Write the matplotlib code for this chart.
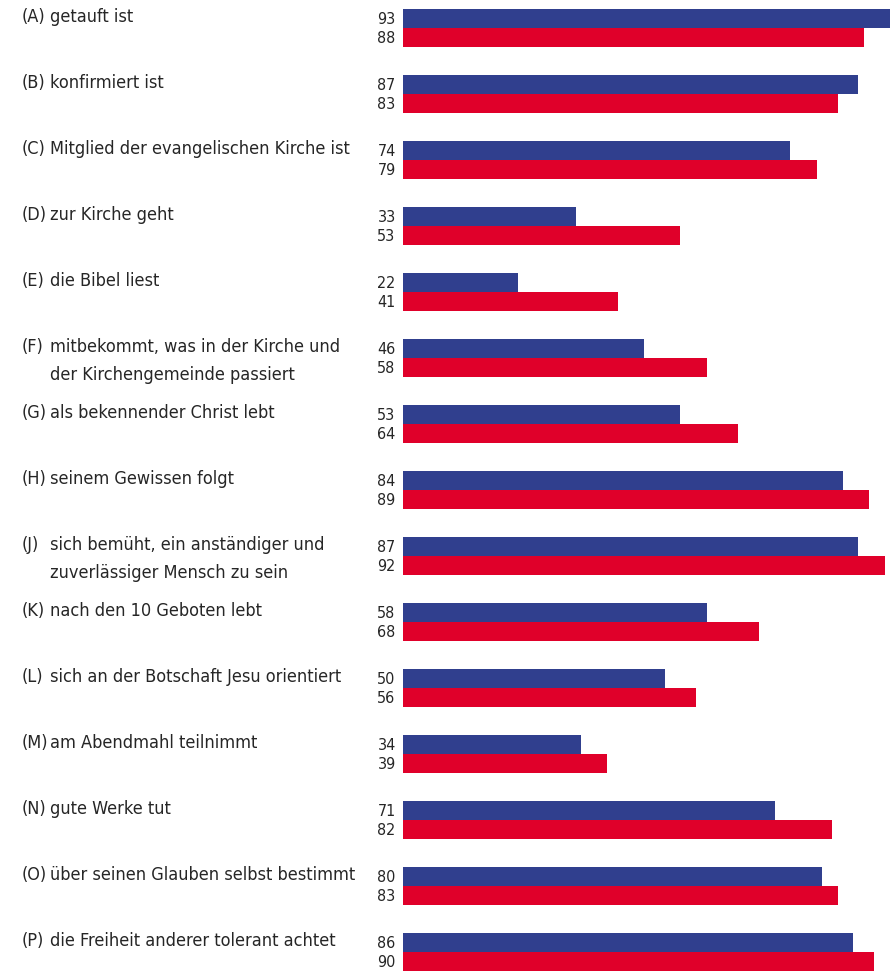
import matplotlib
matplotlib.use("Agg")
import matplotlib.pyplot as plt
import matplotlib.transforms as mtransforms
from matplotlib import font_manager
import numpy as np

# Data
Keys = ["A", "B", "C", "D", "E", "F", "G", "H", "J", "K", "L", "M", "N", "O", "P"]
Labels = [
    ["getauft ist"],
    ["konfirmiert ist"],
    ["Mitglied der evangelischen Kirche ist"],
    ["zur Kirche geht"],
    ["die Bibel liest"],
    ["mitbekommt, was in der Kirche und", "der Kirchengemeinde passiert"],
    ["als bekennender Christ lebt"],
    ["seinem Gewissen folgt"],
    ["sich bemüht, ein anständiger und", "zuverlässiger Mensch zu sein"],
    ["nach den 10 Geboten lebt"],
    ["sich an der Botschaft Jesu orientiert"],
    ["am Abendmahl teilnimmt"],
    ["gute Werke tut"],
    ["über seinen Glauben selbst bestimmt"],
    ["die Freiheit anderer tolerant achtet"],
]
Blue = [93, 87, 74, 33, 22, 46, 53, 84, 87, 58, 50, 34, 71, 80, 86]
Red = [88, 83, 79, 53, 41, 58, 64, 89, 92, 68, 56, 39, 82, 83, 90]

BLUE = "#303f8e"
RED = "#e0002a"
TEXT = "#262626"

# Look for a condensed face, else fall back on DejaVu Sans
fname = None
for f in font_manager.fontManager.ttflist:
    n = (f.fname + " " + f.name).lower()
    if ("condensed" in n or "narrow" in n) and "bold" not in n and "oblique" not in n \
            and "italic" not in n and "light" not in n:
        fname = f.fname
        break
if fname:
    lab_font = font_manager.FontProperties(fname=fname, size=13)
    num_font = font_manager.FontProperties(fname=fname, size=11.5)
else:
    lab_font = font_manager.FontProperties(family="DejaVu Sans", size=11)
    num_font = font_manager.FontProperties(family="DejaVu Sans", size=10)

W, H = 894, 973
fig = plt.figure(figsize=(W / 100, H / 100), dpi=100)
x0 = 403 / W                                                        # bars start here
ax = fig.add_axes([x0, 0, 1 - x0, 1])

px_per_unit = 5.235
row_px = 66
top_px = 28                                                         # boundary between blue/red of first row
ax.set_xlim(0, (W - 403) / px_per_unit)
ax.set_ylim((H - top_px) / row_px, -top_px / row_px)
ax.axis("off")

y = np.arange(len(Keys))
h = 19 / row_px
ax.barh(y - h / 2, Blue, height=h, color=BLUE, linewidth=0)
ax.barh(y + h / 2, Red, height=h, color=RED, linewidth=0)

for i in range(len(Keys)):                                          # value labels left of bars
    ax.text(-1.4, y[i] - h / 2 + 0.01, str(Blue[i]), ha="right", va="center",
            fontproperties=num_font, color=TEXT, clip_on=False)
    ax.text(-1.4, y[i] + h / 2 + 0.02, str(Red[i]), ha="right", va="center",
            fontproperties=num_font, color=TEXT, clip_on=False)

trans = mtransforms.blended_transform_factory(fig.transFigure, ax.transData)
line_gap = 27.5 / row_px
for i, key in enumerate(Keys):                                      # category labels
    yc = y[i] - h / 2 - 0.02
    ax.text(22 / W, yc, "(%s)" % key, ha="left", va="center", fontproperties=lab_font,
            color=TEXT, transform=trans, clip_on=False)
    for j, line in enumerate(Labels[i]):
        ax.text(50 / W, yc + j * line_gap, line, ha="left", va="center",
                fontproperties=lab_font, color=TEXT, transform=trans, clip_on=False)

fig.savefig("out.png", dpi=100)
